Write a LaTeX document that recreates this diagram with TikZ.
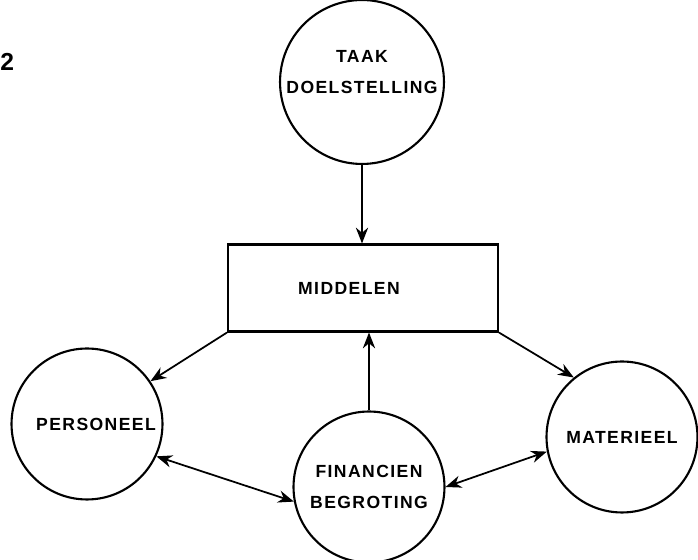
\documentclass[tikz,border=0pt]{standalone}
\usepackage{fontspec}
\setmainfont[LetterSpace=8]{Liberation Sans}
\usetikzlibrary{arrows.meta}
\begin{document}
\begin{tikzpicture}[x=0.02cm,y=-0.02cm,
  every node/.style={font=\fontsize{10}{18}\selectfont\bfseries},
  blob/.style={draw,circle,line width=1.2pt,minimum size=3.02cm,inner sep=0pt,align=center},
  panel/.style={draw,rectangle,line width=1.2pt,minimum width=5.4cm,minimum height=1.74cm},
  link/.style={line width=1pt,-{Stealth[length=9pt,width=7pt]}},
  dlink/.style={line width=1pt,{Stealth[length=9pt,width=7pt]}-{Stealth[length=9pt,width=7pt]}}]
  \useasboundingbox (0,0) rectangle (698,560);

  % goal on top
  \node[blob] (taak) at (362,82) {TAAK\\DOELSTELLING\rule[-0.4cm]{0pt}{0pt}};
  \node[font=\fontsize{14}{14}\selectfont\bfseries,anchor=west,inner sep=0pt] (nr) at (0,62) {2};

  % means
  \node[panel] (middelen) at (363,288) {MIDDELEN\hspace*{0.56cm}};

  % the three kinds of means
  \node[blob] (personeel) at (87,424) {\hspace*{0.36cm}PERSONEEL};
  \node[blob] (financien) at (369,487) {FINANCIEN\\BEGROTING};
  \node[blob] (materieel) at (622,437) {MATERIEEL};

  % connectors
  \draw[link] (taak.south) -- (taak.south |- middelen.north);
  \draw[link] (middelen.south west) -- (personeel.34);
  \draw[link] (middelen.south east) -- (materieel.129);
  \draw[link] (financien.north) -- (financien.north |- middelen.south);
  \draw[dlink] (personeel.-25) -- (financien.191);
  \draw[dlink] (financien.0) -- (materieel.191);
\end{tikzpicture}
\end{document}
